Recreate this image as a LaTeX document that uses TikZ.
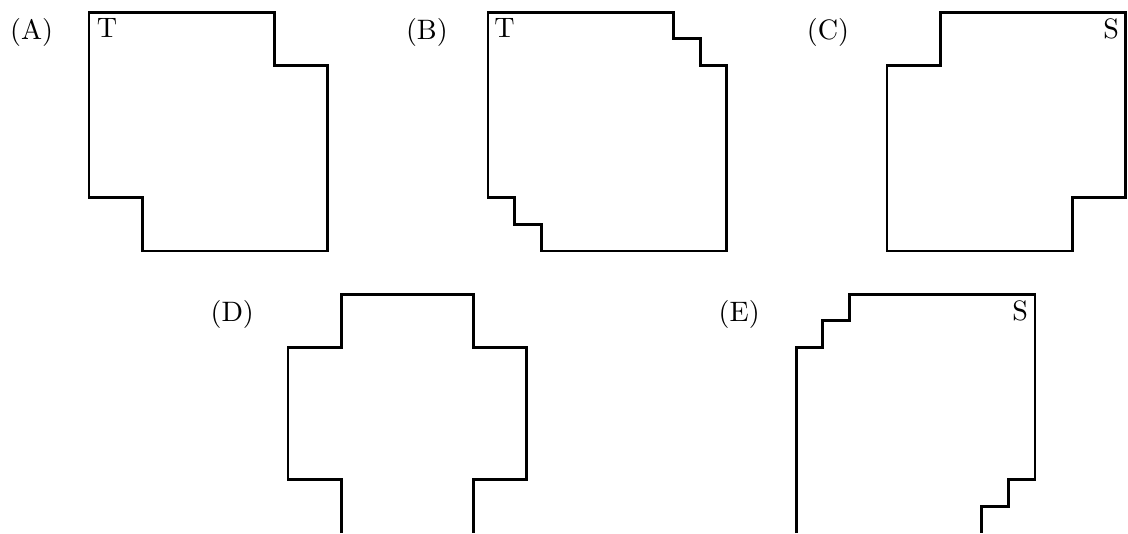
\documentclass[tikz,border=0pt]{standalone}
\usepackage{amsmath,amssymb}
\usepackage{tikz}
\usetikzlibrary{calc}

\begin{document}
\begin{tikzpicture}[x=0.664cm,y=0.664cm,bd/.style={line width=1.05pt}]
      \useasboundingbox (0,0) rectangle (21.243,10.038);
      % (A)
      \begin{scope}[shift={(1.676,5.311)}]
        \node (LA) at (-1.08,4.12) {(A)};
        \node (TA) at (0.34,4.2) {T};
        \draw[bd] (0,1) -- (0,4.5) -- (3.5,4.5) -- (3.5,3.5) -- (4.5,3.5) -- (4.5,0) -- (1,0) -- (1,1) -- cycle;
      \end{scope}
      % (B)
      \begin{scope}[shift={(9.190,5.311)}]
        \node (LB) at (-1.15,4.12) {(B)};
        \node (TB) at (0.31,4.2) {T};
        \draw[bd] (0,1) -- (0,4.5) -- (3.5,4.5) -- (3.5,4) -- (4,4) -- (4,3.5) -- (4.5,3.5) -- (4.5,0)
          -- (1,0) -- (1,0.5) -- (0.5,0.5) -- (0.5,1) -- cycle;
      \end{scope}
      % (C)
      \begin{scope}[shift={(16.704,5.311)}]
        \node (LC) at (-1.11,4.12) {(C)};
        \node (SC) at (4.22,4.19) {S};
        \draw[bd] (0,0) -- (0,3.5) -- (1,3.5) -- (1,4.5) -- (4.5,4.5) -- (4.5,1) -- (3.5,1) -- (3.5,0) -- cycle;
      \end{scope}
      % (D)
      \begin{scope}[shift={(5.424,0)}]
        \node (LD) at (-1.05,4.12) {(D)};
        \draw[bd] (1,0) -- (1,1) -- (0,1) -- (0,3.5) -- (1,3.5) -- (1,4.5) -- (3.5,4.5) -- (3.5,3.5)
          -- (4.5,3.5) -- (4.5,1) -- (3.5,1) -- (3.5,0);
      \end{scope}
      % (E)
      \begin{scope}[shift={(14.991,0)}]
        \node (LE) at (-1.07,4.12) {(E)};
        \node (SE) at (4.22,4.18) {S};
        \draw[bd] (0,0) -- (0,3.5) -- (0.5,3.5) -- (0.5,4) -- (1,4) -- (1,4.5) -- (4.5,4.5) -- (4.5,1)
          -- (4,1) -- (4,0.5) -- (3.5,0.5) -- (3.5,0);
      \end{scope}
    \end{tikzpicture}
\end{document}
